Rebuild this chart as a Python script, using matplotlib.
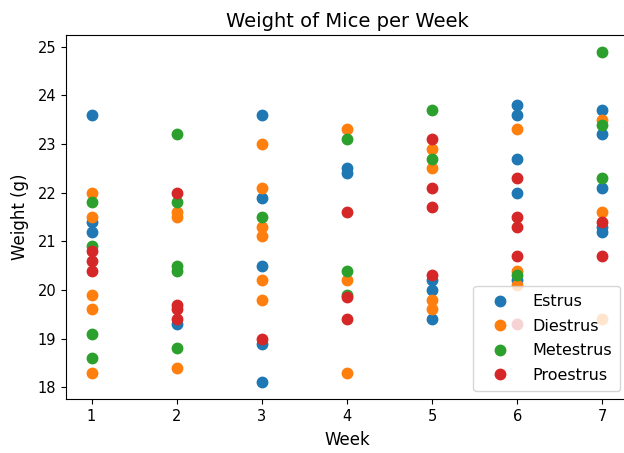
import matplotlib
matplotlib.use("Agg")
import matplotlib.pyplot as plt

weeks = [1, 2, 3, 4, 5, 6, 7]

estrus = {
    1: [23.6, 21.4, 21.2],
    2: [19.3],
    3: [23.6, 21.9, 20.5, 18.9, 18.1],
    4: [22.5, 22.4],
    5: [20.2, 20.0, 19.4],
    6: [23.8, 23.6, 22.7, 22.0, 20.2],
    7: [23.7, 23.2, 22.1, 21.3, 21.2],
}
diestrus = {
    1: [22.0, 21.5, 19.9, 19.6, 18.3],
    2: [21.6, 21.5, 18.4],
    3: [23.0, 22.1, 21.3, 21.1, 20.2, 19.8],
    4: [23.3, 20.2, 18.3],
    5: [22.9, 22.5, 19.8, 19.6],
    6: [23.3, 20.4, 20.1],
    7: [23.5, 21.6, 19.4],
}
metestrus = {
    1: [21.8, 20.9, 19.1, 18.6],
    2: [23.2, 21.8, 20.5, 20.4, 18.8],
    3: [21.5],
    4: [23.1, 20.4, 19.9],
    5: [23.7, 22.7],
    6: [20.3],
    7: [24.9, 23.4, 22.3],
}
proestrus = {
    1: [20.8, 20.6, 20.4],
    2: [22.0, 19.7, 19.6, 19.4],
    3: [19.0],
    4: [21.6, 19.85, 19.4],
    5: [23.1, 22.1, 21.7, 20.3],
    6: [22.3, 21.5, 21.3, 20.7, 19.3],
    7: [21.4, 20.7],
}

series = [("Estrus", estrus), ("Diestrus", diestrus),
          ("Metestrus", metestrus), ("Proestrus", proestrus)]

fig = plt.figure(figsize=(6.24, 4.53), dpi=100)
ax = fig.add_axes([66/624, 1 - 399/453, 562/624, 364/453])

for name, d in series:
    xs, ys = [], []
    for w in weeks:
        for v in d[w]:
            xs.append(w)
            ys.append(v)
    ax.plot(xs, ys, 'o', label=name, markersize=7.5)

ax.spines['right'].set_visible(False)
ax.set_title("Weight of Mice per Week", fontsize=14, pad=6)
ax.set_xlabel("Week", fontsize=12, labelpad=5)
ax.set_ylabel("Weight (g)", fontsize=12, labelpad=6)
ax.tick_params(labelsize=10.5)
ax.legend(loc="lower right", fontsize=11.5, borderaxespad=0.5,
          labelspacing=0.6, handlelength=2.3, handletextpad=0.9,
          borderpad=0.5)

fig.savefig("out.png", dpi=100)
